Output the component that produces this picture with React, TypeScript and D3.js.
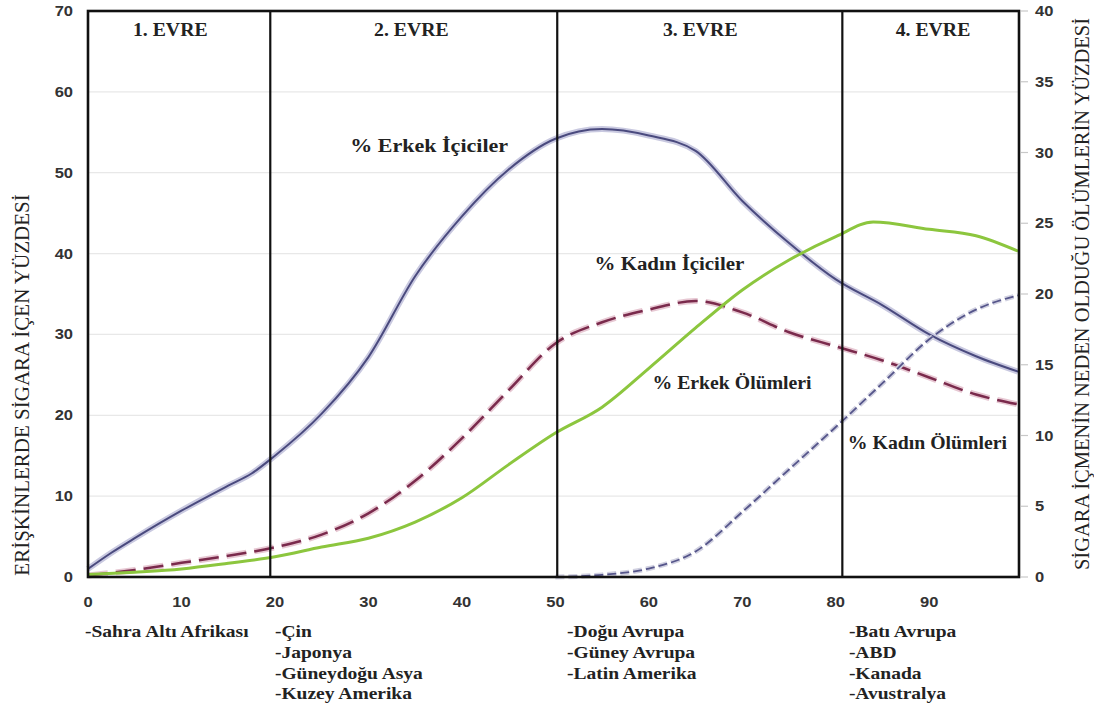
import React from "react";
import * as d3 from "d3";

const xTicks = [0, 10, 20, 30, 40, 50, 60, 70, 80, 90];
const leftTicks = [0, 10, 20, 30, 40, 50, 60, 70];
const rightTicks = [0, 5, 10, 15, 20, 25, 30, 35, 40];

const phaseBounds = [19.5, 50.2, 80.7];
const phaseLabels = ["1. EVRE", "2. EVRE", "3. EVRE", "4. EVRE"];
const phaseCenters = [8.8, 34.6, 65.5, 90.4];

// % Erkek İçiciler (left axis)
const maleSmokersX = [0, 2.5, 5, 10, 15, 17.5, 20, 25, 30, 35, 40, 45, 50, 55, 60, 65, 70, 75, 80, 85, 90, 95, 99.5];
const maleSmokersY = [1, 3, 4.8, 8.2, 11.3, 12.8, 15, 20.2, 27.2, 37.2, 44.6, 50.4, 54.2, 55.4, 54.6, 52.7, 46.5, 41.3, 36.8, 33.6, 30, 27.3, 25.4];

// % Kadın İçiciler (left axis)
const femaleSmokersX = [0, 5, 10, 15, 20, 25, 30, 35, 40, 45, 50, 55, 60, 65, 70, 75, 80, 84, 90, 95, 99.5];
const femaleSmokersY = [0.3, 0.6, 1.0, 1.7, 2.5, 3.7, 4.8, 6.8, 9.8, 13.9, 17.8, 21.0, 25.8, 30.8, 35.5, 39.2, 42.1, 43.9, 43, 42.2, 40.3];

// % Erkek Ölümleri (right axis)
const maleDeathsX = [0, 5, 10, 15, 20, 25, 30, 35, 40, 45, 50, 55, 60, 65, 70, 75, 80, 85, 90, 95, 99.5];
const maleDeathsY = [0.1, 0.5, 1.0, 1.5, 2.1, 3.0, 4.5, 6.8, 9.8, 13.2, 16.5, 18, 18.9, 19.5, 18.7, 17.3, 16.3, 15.3, 14.1, 12.9, 12.2];

// % Kadın Ölümleri (right axis)
const femaleDeathsX = [50, 55, 60, 65, 70, 75, 80, 85, 90, 95, 99.5];
const femaleDeathsY = [0, 0.15, 0.6, 1.8, 4.6, 7.6, 10.6, 13.7, 16.8, 18.9, 19.9];

const curveLabels = [
  { text: "% Erkek İçiciler", x: 36.5, y: 52.6, s: 1.16 },
  { text: "% Kadın İçiciler", x: 62.2, y: 38.0, s: 1.1 },
  { text: "% Erkek Ölümleri", x: 68.9, y: 23.3, s: 1.04 },
  { text: "% Kadın Ölümleri", x: 89.8, y: 15.8, s: 1.04 },
];

const regionGroups = [
  { x: -0.32, items: ["-Sahra Altı Afrikası"] },
  { x: 20.0, items: ["-Çin", "-Japonya", "-Güneydoğu Asya", "-Kuzey Amerika"] },
  { x: 51.25, items: ["-Doğu Avrupa", "-Güney Avrupa", "-Latin Amerika"] },
  { x: 81.4, items: ["-Batı Avrupa", "-ABD", "-Kanada", "-Avustralya"] },
];

const W = 1094;
const H = 711;
const left = 88;
const right = 1019;
const top = 11;
const bottom = 577;

export default function App() {
  const x = d3.scaleLinear().domain([0, 99.6]).range([left, right]);
  const yL = d3.scaleLinear().domain([0, 70]).range([bottom, top]);
  const yR = d3.scaleLinear().domain([0, 40]).range([bottom, top]);

  const lineL = d3
    .line<[number, number]>()
    .x((d) => x(d[0]))
    .y((d) => yL(d[1]))
    .curve(d3.curveMonotoneX);
  const lineR = d3
    .line<[number, number]>()
    .x((d) => x(d[0]))
    .y((d) => yR(d[1]))
    .curve(d3.curveMonotoneX);

  const zip = (a: number[], b: number[]) => a.map((v, i) => [v, b[i]] as [number, number]);

  const maleS = lineL(zip(maleSmokersX, maleSmokersY)) || "";
  const femaleS = lineL(zip(femaleSmokersX, femaleSmokersY)) || "";
  const maleD = lineR(zip(maleDeathsX, maleDeathsY)) || "";
  const femaleD = lineR(zip(femaleDeathsX, femaleDeathsY)) || "";

  const serif = "'Liberation Serif', 'Times New Roman', serif";
  const sans = "'Liberation Sans', Arial, sans-serif";

  const tickStyle = { fontFamily: sans, fontWeight: 700, fontSize: 14, fill: "#333" } as const;

  return (
    <div style={{ position: "absolute", left: 0, top: 0 }}>
      <svg width={W} height={H} style={{ display: "block", background: "#fff" }}>
        {/* gridlines */}
        {leftTicks.slice(1, -1).map((t) => (
          <line key={"g" + t} x1={left} x2={right} y1={yL(t)} y2={yL(t)} stroke="#e8e8e8" strokeWidth={1.2} />
        ))}

        {/* left tick labels */}
        {leftTicks.map((t) => (
          <text key={"l" + t} transform={`translate(73,${yL(t)}) scale(1.18,1)`} dy="0.36em" textAnchor="end" {...tickStyle}>
            {t}
          </text>
        ))}
        {/* right ticks */}
        {rightTicks.map((t) => (
          <g key={"r" + t}>
            <line x1={right + 2} x2={right + 9} y1={yR(t)} y2={yR(t)} stroke="#c8c8c8" strokeWidth={1.2} />
            <text transform={`translate(1035,${yR(t)}) scale(1.18,1)`} dy="0.36em" textAnchor="start" {...tickStyle}>
              {t}
            </text>
          </g>
        ))}
        {/* x tick labels */}
        {xTicks.map((t) => (
          <text key={"x" + t} transform={`translate(${x(t)},607) scale(1.18,1)`} textAnchor="middle" {...tickStyle}>
            {t}
          </text>
        ))}

        {/* series */}
        <path d={maleS} fill="none" stroke="#c9c9e0" strokeWidth={6} strokeLinejoin="round" />
        <path d={maleS} fill="none" stroke="#4a4a7e" strokeWidth={2} strokeLinejoin="round" />

        <path d={maleD} fill="none" stroke="#e7c8d3" strokeWidth={6} strokeDasharray="20 8" />
        <path d={maleD} fill="none" stroke="#7a2a4c" strokeWidth={2.5} strokeDasharray="20 8" />

        <path d={femaleD} fill="none" stroke="#d0d0e0" strokeWidth={5} strokeDasharray="9 4" />
        <path d={femaleD} fill="none" stroke="#55558a" strokeWidth={1.8} strokeDasharray="9 4" />

        <path d={femaleS} fill="none" stroke="#8cc63e" strokeWidth={3} strokeLinejoin="round" />

        {/* phase separators */}
        {phaseBounds.map((b) => (
          <line key={"p" + b} x1={x(b)} x2={x(b)} y1={top} y2={bottom} stroke="#111" strokeWidth={2.2} />
        ))}
        {/* frame */}
        <rect x={left} y={top} width={right - left} height={bottom - top} fill="none" stroke="#111" strokeWidth={2.6} />

        {/* phase labels */}
        {phaseLabels.map((p, i) => (
          <text key={p} transform={`translate(${x(phaseCenters[i])},36) scale(1.04,1)`} textAnchor="middle" fontFamily={serif} fontWeight="bold" fontSize={19} fill="#222">
            {p}
          </text>
        ))}

        {/* curve labels */}
        {curveLabels.map((c) => (
          <text key={c.text} transform={`translate(${x(c.x)},${yL(c.y)}) scale(${c.s},1)`} textAnchor="middle" fontFamily={serif} fontWeight="bold" fontSize={19} fill="#222">
            {c.text}
          </text>
        ))}

        {/* region groups */}
        {regionGroups.map((g) =>
          g.items.map((it, j) => (
            <text key={it} transform={`translate(${x(g.x)},${637 + j * 20.8}) scale(1.22,1)`} fontFamily={serif} fontWeight="bold" fontSize={16} fill="#222">
              {it}
            </text>
          ))
        )}

        {/* axis titles */}
        <text transform={`translate(29,385) rotate(-90)`} textAnchor="middle" fontFamily={serif} fontSize={21} fill="#222">
          ERİŞKİNLERDE SİGARA İÇEN YÜZDESİ
        </text>
        <text transform={`translate(1089,294) rotate(-90)`} textAnchor="middle" fontFamily={serif} fontSize={20.5} fill="#222">
          SİGARA İÇMENİN NEDEN OLDUĞU ÖLÜMLERİN YÜZDESİ
        </text>
      </svg>
    </div>
  );
}
